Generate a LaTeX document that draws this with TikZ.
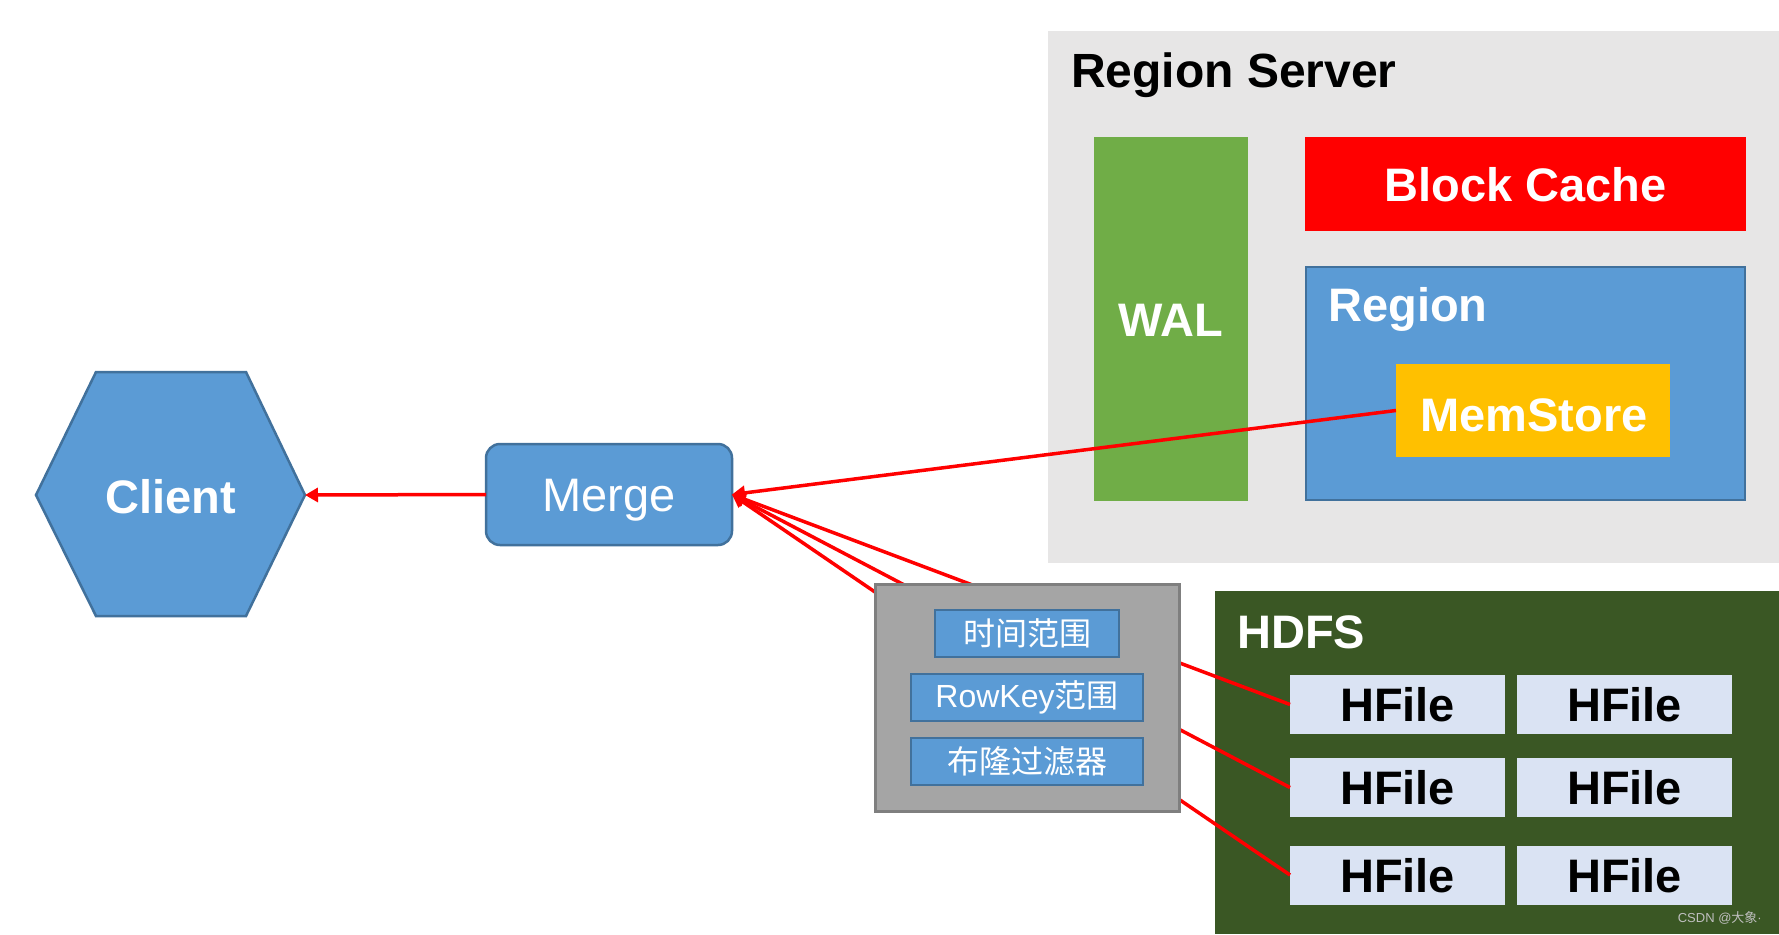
\documentclass[tikz,border=0pt]{standalone}
\usepackage{fontspec}
\setmainfont{Liberation Sans}
\newfontfamily\cjk{Noto Sans CJK SC}
\usetikzlibrary{arrows.meta}
\definecolor{rsbg}{HTML}{E7E6E6}
\definecolor{walgreen}{HTML}{70AD47}
\definecolor{bcred}{HTML}{FF0000}
\definecolor{nodeblue}{HTML}{5B9BD5}
\definecolor{edgeblue}{HTML}{41719C}
\definecolor{memyellow}{HTML}{FFC000}
\definecolor{hdfsgreen}{HTML}{3A5724}
\definecolor{hfilebg}{HTML}{DAE3F3}
\definecolor{filtergray}{HTML}{A5A5A5}
\definecolor{filteredge}{HTML}{7F7F7F}
\definecolor{wmgray}{HTML}{BFBFBF}
\begin{document}
\begin{tikzpicture}[x=1pt,y=-1pt,
  sz/.style 2 args={minimum width=#1pt,minimum height=#2pt,inner sep=0pt,outer sep=0pt},
  bigtxt/.style={font=\fontsize{47}{56}\selectfont\bfseries, text height=34pt, text depth=0pt},
  regtxt/.style={font=\fontsize{47}{56}\selectfont, text height=34pt, text depth=0pt},
  smalltxt/.style={font=\fontsize{32}{38}\selectfont, text=white},
  bluebox/.style={fill=nodeblue, draw=edgeblue, line width=2.5pt},
  hfile/.style={fill=hfilebg, sz={215}{59}, bigtxt, text=black},
  fitem/.style={fill=nodeblue, draw=edgeblue, line width=2.8pt, smalltxt},
  redarrow/.style={draw=bcred, line width=3.5pt, -{Triangle[length=13pt,width=14pt]}},
  redline/.style={draw=bcred, line width=3.5pt}
]
\useasboundingbox (0,0) rectangle (1779,934);
\fill[white] (0,0) rectangle (1779,934);

% Region Server
\node[fill=rsbg, sz={731}{532}] (rs) at (1413.5,297) {};
\node[anchor=base west, font=\fontsize{48}{58}\selectfont\bfseries, inner sep=0pt] (rstitle) at (1071,88) {Region Server};
\node[fill=walgreen, sz={154}{364}, bigtxt, text=white] (wal) at (1171,319) {WAL};
\node[fill=bcred, sz={441}{94}, bigtxt, text=white] (bc) at (1525.5,184) {Block Cache};
\node[bluebox, sz={439}{233}] (region) at (1525.5,383.5) {};
\node[anchor=base west, font=\fontsize{47}{56}\selectfont\bfseries, text=white, inner sep=0pt] (regiontitle) at (1328,321) {Region};
\node[fill=memyellow, sz={274}{93}, bigtxt, text=white] (mem) at (1533,410.5) {};
\node[anchor=base, font=\fontsize{47}{56}\selectfont\bfseries, text=white, inner sep=0pt] (memlbl) at (1534,431) {MemStore};

% HDFS
\node[fill=hdfsgreen, sz={564}{343}] (hdfs) at (1497,762.5) {};
\node[anchor=base west, font=\fontsize{47}{56}\selectfont\bfseries, text=white, inner sep=0pt] (hdfstitle) at (1237,648) {HDFS};
\node[hfile] (h11) at (1397.5,704.5) {HFile};
\node[hfile] (h12) at (1624.5,704.5) {HFile};
\node[hfile] (h21) at (1397.5,787.5) {HFile};
\node[hfile] (h22) at (1624.5,787.5) {HFile};
\node[hfile] (h31) at (1397.5,875) {HFile};
\node[hfile] (h32) at (1624.5,875) {HFile};
\node[anchor=base east, font=\fontsize{13}{15}\selectfont, text=wmgray, inner sep=0pt] (wm) at (1762,922) {CSDN @{\cjk 大象}·};

% Merge and Client
\node[bluebox, rounded corners=14pt, sz={246}{101}, regtxt, text=white] (merge) at (609,494.5) {Merge};
\coordinate (cW) at (36,495);
\coordinate (cNW) at (96,372);
\coordinate (cNE) at (246,372);
\coordinate (cE) at (305,495);
\coordinate (cSE) at (246,616);
\coordinate (cSW) at (96,616);
\draw[bluebox] (cW) -- (cNW) -- (cNE) -- (cE) -- (cSE) -- (cSW) -- cycle;
\node[bigtxt, text=white, inner sep=0pt] (client) at (171,496) {Client};

% lines from HFiles to Merge (behind filter box)
\draw[redarrow] (h11.west) -- (merge.east);
\draw[redarrow] (h21.west) -- (merge.east);
\draw[redarrow] (h31.west) -- (merge.east);

% Filter box
\node[fill=filtergray, draw=filteredge, line width=3pt, sz={304}{227}] (filter) at (1027,697.5) {};
\node[fitem, sz={184}{47}] (f1) at (1027,633.5) {\cjk 时间范围};
\node[fitem, sz={232}{47}] (f2) at (1027,697.5) {RowKey{\cjk 范围}};
\node[fitem, sz={232}{47}] (f3) at (1027,761.5) {\cjk 布隆过滤器};

% other arrows
\draw[redarrow] (mem.west) -- (merge.east);
\draw[redarrow] (merge.west) -- (cE);
\end{tikzpicture}
\end{document}
